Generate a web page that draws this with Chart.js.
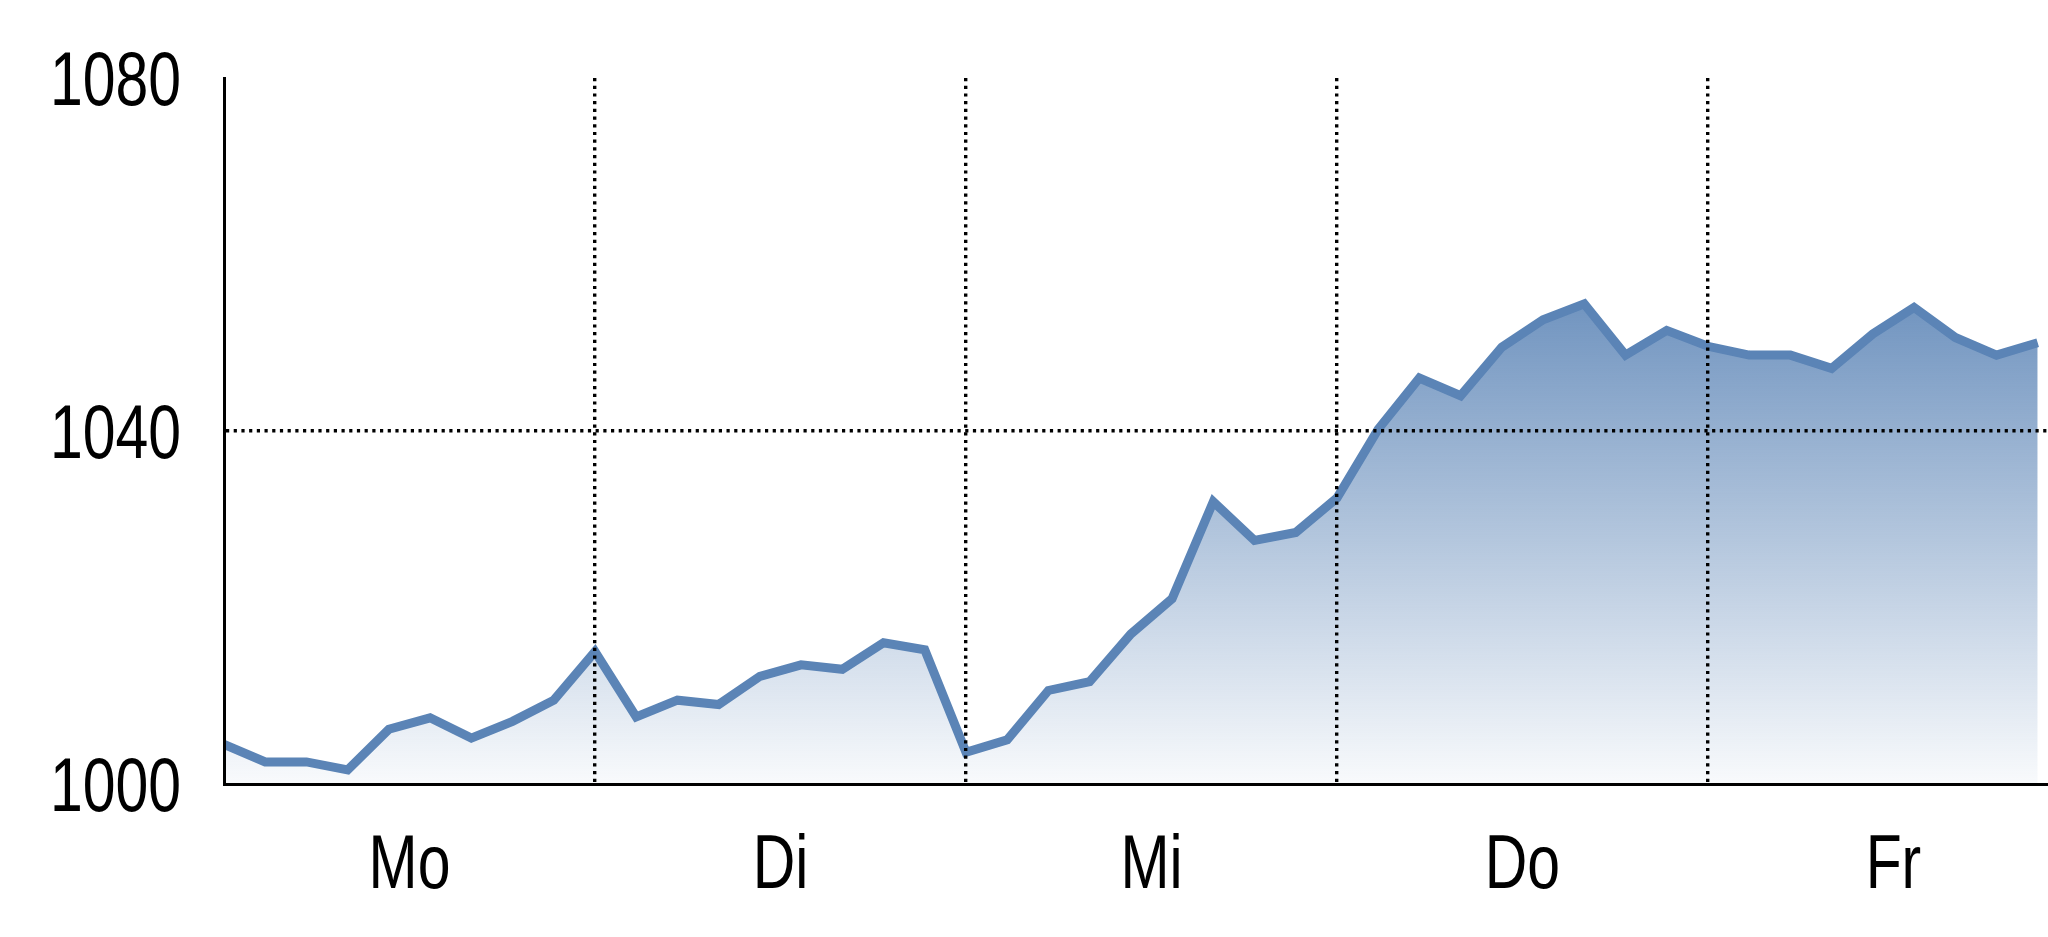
<!DOCTYPE html>
<html>
<head>
<meta charset="utf-8">
<script src="https://cdn.jsdelivr.net/npm/chart.js@4/dist/chart.umd.min.js"></script>
<style>
  html, body { margin: 0; padding: 0; background: #fff; overflow: hidden; }
  #wrap { width: 2048px; height: 937px; }
</style>
</head>
<body>
<div id="wrap"><canvas id="chart" width="2048" height="937"></canvas></div>
<script>
// days of the week, 9 readings per day
const days = ["Mo", "Di", "Mi", "Do", "Fr"];
const pointsPerDay = 9;
const yTicks = [1000, 1040, 1080];

const values = [
  1004.5, 1002.5, 1002.5, 1001.6, 1006.2, 1007.5, 1005.2, 1007.1, 1009.5,
  1015.0, 1007.6, 1009.5, 1009.0, 1012.2, 1013.5, 1013.0, 1016.0, 1015.2,
  1003.6, 1005.0, 1010.6, 1011.6, 1017.0, 1021.0, 1032.0, 1027.6, 1028.5,
  1032.4, 1040.2, 1046.0, 1044.0, 1049.5, 1052.6, 1054.4, 1048.6, 1051.4,
  1049.6, 1048.6, 1048.6, 1047.1, 1051.0, 1054.0, 1050.6, 1048.6, 1050.0
];

const points = values.map((v, i) => ({ x: i, y: v }));

const lineColor = "rgb(91,132,182)";
const fontFamily = "'Liberation Sans', Arial, sans-serif";
const fontSize = 76;
const squeeze = 0.775; // the original labels use a narrow face

function fillGradient(context) {
  const chart = context.chart;
  const area = chart.chartArea;
  if (!area) return "rgba(91,132,182,0.5)";
  const g = chart.ctx.createLinearGradient(0, area.top, 0, area.bottom);
  g.addColorStop(0, "rgba(91,132,182,1)");
  g.addColorStop(0.21, "rgba(91,132,182,1)");
  g.addColorStop(1, "rgba(91,132,182,0.04)");
  return g;
}

function narrowText(ctx, text, x, y, align) {
  ctx.save();
  ctx.translate(x, y);
  ctx.scale(squeeze, 1);
  ctx.textAlign = align;
  ctx.fillText(text, 0, 0);
  ctx.restore();
}

// draws the tick labels in a condensed form, at the positions the scales give
const narrowLabels = {
  id: "narrowLabels",
  afterDraw(chart) {
    const { ctx, scales } = chart;
    ctx.save();
    ctx.fillStyle = "#000";
    ctx.font = fontSize + "px " + fontFamily;
    ctx.textBaseline = "alphabetic";
    scales.y.ticks.forEach(t => {
      const y = scales.y.getPixelForValue(t.value);
      narrowText(ctx, String(t.value), scales.y.right - 43, y + 27, "right");
    });
    days.forEach((d, i) => {
      const x = scales.x.getPixelForValue(i * pointsPerDay + pointsPerDay / 2);
      narrowText(ctx, d, x, scales.x.top + 104, "center");
    });
    ctx.restore();
  }
};

new Chart(document.getElementById("chart"), {
  type: "line",
  data: {
    datasets: [{
      data: points,
      borderColor: lineColor,
      borderWidth: 9,
      tension: 0,
      pointRadius: 0,
      fill: "origin",
      backgroundColor: fillGradient
    }]
  },
  options: {
    responsive: false,
    animation: false,
    devicePixelRatio: 1,
    layout: { padding: { top: 78, left: 0, right: 0, bottom: 0 } },
    plugins: { legend: { display: false }, tooltip: { enabled: false } },
    scales: {
      x: {
        type: "linear",
        min: 0,
        max: 44.25,
        afterBuildTicks: (scale) => {
          const t = [];
          for (let d = 0; d < days.length; d++) {
            t.push({ value: d * pointsPerDay });
            t.push({ value: d * pointsPerDay + pointsPerDay / 2 });
          }
          scale.ticks = t;
        },
        afterFit: (scale) => { scale.height = 153; },
        ticks: { display: false, autoSkip: false },
        grid: {
          drawTicks: false,
          lineWidth: 3.4,
          z: 1,
          color: (ctx) => (ctx.tick && ctx.tick.value > 0 && ctx.tick.value % pointsPerDay === 0) ? "#000" : "rgba(0,0,0,0)"
        },
        border: { display: true, color: "#000", width: 3, dash: [3.2, 4.5], z: 1 }
      },
      y: {
        min: 1000,
        max: 1080,
        afterBuildTicks: (scale) => { scale.ticks = yTicks.map(v => ({ value: v })); },
        afterFit: (scale) => { scale.width = 224; },
        ticks: { display: false },
        grid: {
          drawTicks: false,
          lineWidth: 3.4,
          z: 1,
          color: (ctx) => (ctx.tick && ctx.tick.value === 1040) ? "#000" : "rgba(0,0,0,0)"
        },
        border: { display: true, color: "#000", width: 3, dash: [3.2, 4.5], z: 1 }
      }
    }
  },
  plugins: [narrowLabels]
});
</script>
</body>
</html>
